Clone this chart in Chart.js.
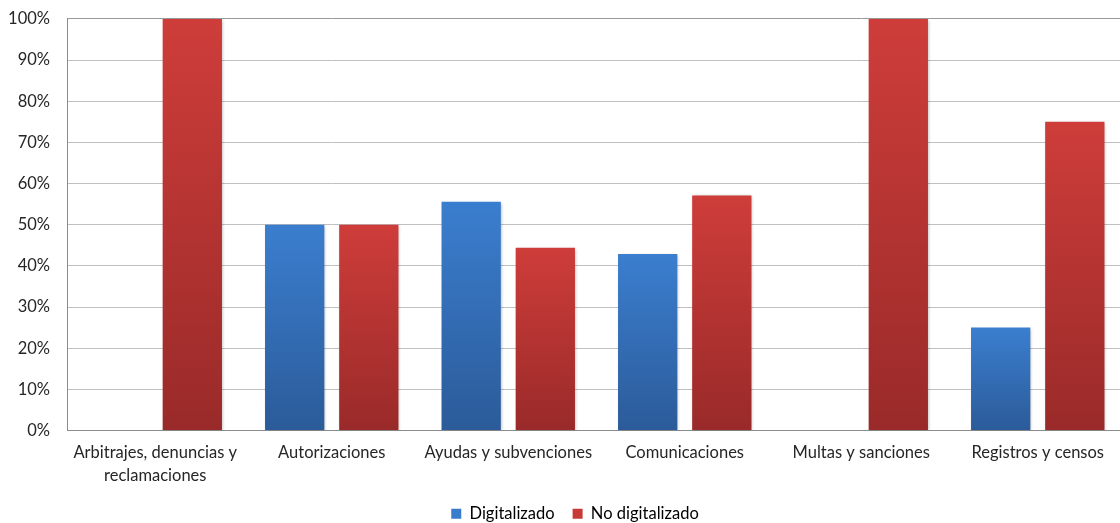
<!DOCTYPE html>
<html><head><meta charset="utf-8">
<script src="https://cdn.jsdelivr.net/npm/chart.js@4"></script>
<style>
html,body{margin:0;padding:0;overflow:hidden;background:#fff;width:1120px;height:523px;}
#wrap{position:relative;width:1174px;height:540px;margin-top:-8px;}
</style></head>
<body><div id="wrap"><canvas id="c"></canvas></div>
<script>
const categories = [["Arbitrajes, denuncias y","reclamaciones"],"Autorizaciones","Ayudas y subvenciones","Comunicaciones","Multas y sanciones","Registros y censos"];
const digitalizado = [0, 50, 55.6, 42.9, 0, 25];
const noDigitalizado = [100, 50, 44.4, 57.1, 100, 75];
const seriesNames = ["Digitalizado","No digitalizado"];
const yTicks = [0,10,20,30,40,50,60,70,80,90,100];

function grad(top, bottom){
  return function(ctx){
    const chart = ctx.chart;
    if(!chart.chartArea || ctx.type !== 'data') return top;
    const y = chart.scales.y;
    const v = ctx.raw || 0;
    const y0 = y.getPixelForValue(0), y1 = y.getPixelForValue(v);
    if (y0 === y1) return top;
    const g = chart.ctx.createLinearGradient(0, y1, 0, y0);
    g.addColorStop(0, top);
    g.addColorStop(1, bottom);
    return g;
  };
}

const shadowPlugin = {
  id:'shadow',
  beforeDatasetsDraw(chart){
    const c = chart.ctx; c.save();
    c.shadowColor='rgba(0,0,0,0.28)'; c.shadowBlur=3; c.shadowOffsetX=1; c.shadowOffsetY=1;
  },
  afterDatasetsDraw(chart){ chart.ctx.restore(); }
};

const legendShift = {
  id:'legendShift',
  afterLayout(chart){
    if (chart.legend) { chart.legend.left += 12; chart.legend.right += 12; }
  }
};

Chart.defaults.font.family = 'Lato, "Open Sans", sans-serif';
Chart.defaults.font.size = 16.5;
Chart.defaults.color = '#262626';

new Chart(document.getElementById('c'), {
  type:'bar',
  data:{
    labels: categories,
    datasets:[
      {label: seriesNames[0], data: digitalizado, backgroundColor: grad('#3b7ecf','#2b5b99'), categoryPercentage:0.84, barPercentage:0.8},
      {label: seriesNames[1], data: noDigitalizado, backgroundColor: grad('#ce3d3a','#992a29'), categoryPercentage:0.84, barPercentage:0.8}
    ]
  },
  options:{
    responsive:true, maintainAspectRatio:false, animation:false,
    layout:{padding:{top:6, right:48, left:0, bottom:0}},
    plugins:{
      tooltip:{enabled:false},
      legend:{position:'bottom', labels:{boxWidth:10, boxHeight:10, padding:18, color:'#262626', font:{size:16.5},
        generateLabels(chart){
          return chart.data.datasets.map((d,i)=>({text:d.label, fillStyle:i===0?'#3a7ccc':'#c83a37', strokeStyle:'transparent', lineWidth:0, datasetIndex:i}));
        }}}
    },
    scales:{
      x:{
        grid:{display:false, drawTicks:false},
        border:{display:true, color:'#8c8c8c', width:1},
        afterFit(axis){ axis.height = 57; },
        ticks:{padding:11, maxRotation:0, autoSkip:false, color:'#262626', font:{size:16.5, lineHeight:1.4}}
      },
      y:{
        min:0, max:100,
        afterBuildTicks(axis){ axis.ticks = yTicks.map(v=>({value:v})); },
        afterFit(axis){ axis.width = 67; },
        grid:{color:(c)=> c.tick && c.tick.value===100 ? '#999999' : '#c0c0c0', drawTicks:false, lineWidth:1},
        border:{display:true, color:'#8c8c8c', width:1},
        ticks:{padding:17, color:'#262626', callback:(v)=>v+'%'}
      }
    }
  },
  plugins:[shadowPlugin, legendShift]
});
</script></body></html>
